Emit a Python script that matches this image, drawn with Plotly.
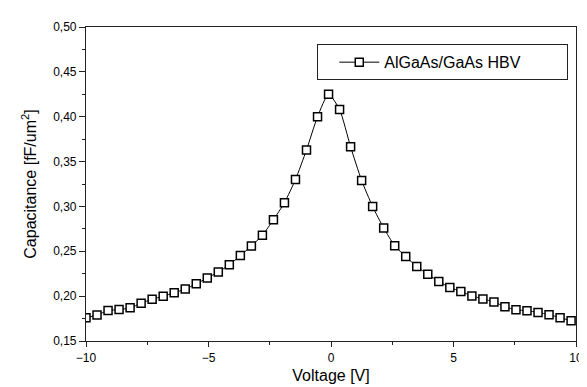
import plotly.graph_objects as go

voltage = [round(-10 + 0.45 * i, 2) for i in range(45)]
capacitance = [
    0.176, 0.179, 0.184, 0.185, 0.187, 0.192, 0.1966, 0.1999, 0.2038, 0.2079,
    0.2137, 0.2203, 0.2269, 0.235, 0.2452, 0.2559, 0.268, 0.2851, 0.3042, 0.330,
    0.363, 0.400, 0.425, 0.408, 0.3664, 0.329, 0.2998, 0.276, 0.2562, 0.2441,
    0.2331, 0.2244, 0.2163, 0.2097, 0.2053, 0.2002, 0.1969, 0.1936, 0.1881, 0.1848,
    0.1837, 0.1819, 0.1793, 0.176, 0.1727,
]
series_name = "AlGaAs/GaAs HBV"
x_ticks = [-10, -5, 0, 5, 10]
y_ticks = [0.15, 0.20, 0.25, 0.30, 0.35, 0.40, 0.45, 0.50]

FONT = "Liberation Sans, Arial, sans-serif"

fig = go.Figure()
fig.add_trace(go.Scatter(
    x=voltage, y=capacitance, name=series_name,
    mode="lines+markers",
    line=dict(color="black", width=1, shape="spline", smoothing=0.6),
    marker=dict(symbol="square", size=8, color="white",
                line=dict(color="black", width=1.5)),
))

axis_common = dict(
    showline=True, linecolor="#222", linewidth=1.2, mirror=True,
    showgrid=False, zeroline=False, ticks="outside", tickcolor="#222",
    tickfont=dict(family=FONT, size=12, color="black"),
)
fig.update_xaxes(
    range=[-10, 10], tickvals=x_ticks, ticklen=5, tickwidth=1.2,
    minor=dict(dtick=2.5, tick0=0, ticks="outside", ticklen=3, tickcolor="#222", tickwidth=1.2),
    title=dict(text="Voltage [V]", font=dict(family=FONT, size=16, color="black"), standoff=6),
    **axis_common,
)
fig.update_yaxes(
    range=[0.15, 0.50], tickvals=y_ticks, tickformat=".2f", ticklen=6, tickwidth=1.2,
    minor=dict(dtick=0.025, tick0=0, ticks="outside", ticklen=3, tickcolor="#222", tickwidth=1.2),
    title=dict(text="Capacitance [fF/um<sup>2</sup>]", font=dict(family=FONT, size=16, color="black"), standoff=12),
    **axis_common,
)
fig.update_layout(
    width=587, height=387,
    margin=dict(l=78, r=14, t=14, b=54),
    paper_bgcolor="white", plot_bgcolor="white",
    separators=",.",
    showlegend=True,
    legend=dict(
        orientation="h",
        x=0.472, y=0.945, xanchor="left", yanchor="top",
        bordercolor="#222", borderwidth=1, bgcolor="white",
        font=dict(family=FONT, size=16, color="black"),
        indentation=16, itemwidth=40,
        entrywidth=178, entrywidthmode="pixels",
        tracegroupgap=0,
    ),
)
fig.write_html("out.html")
